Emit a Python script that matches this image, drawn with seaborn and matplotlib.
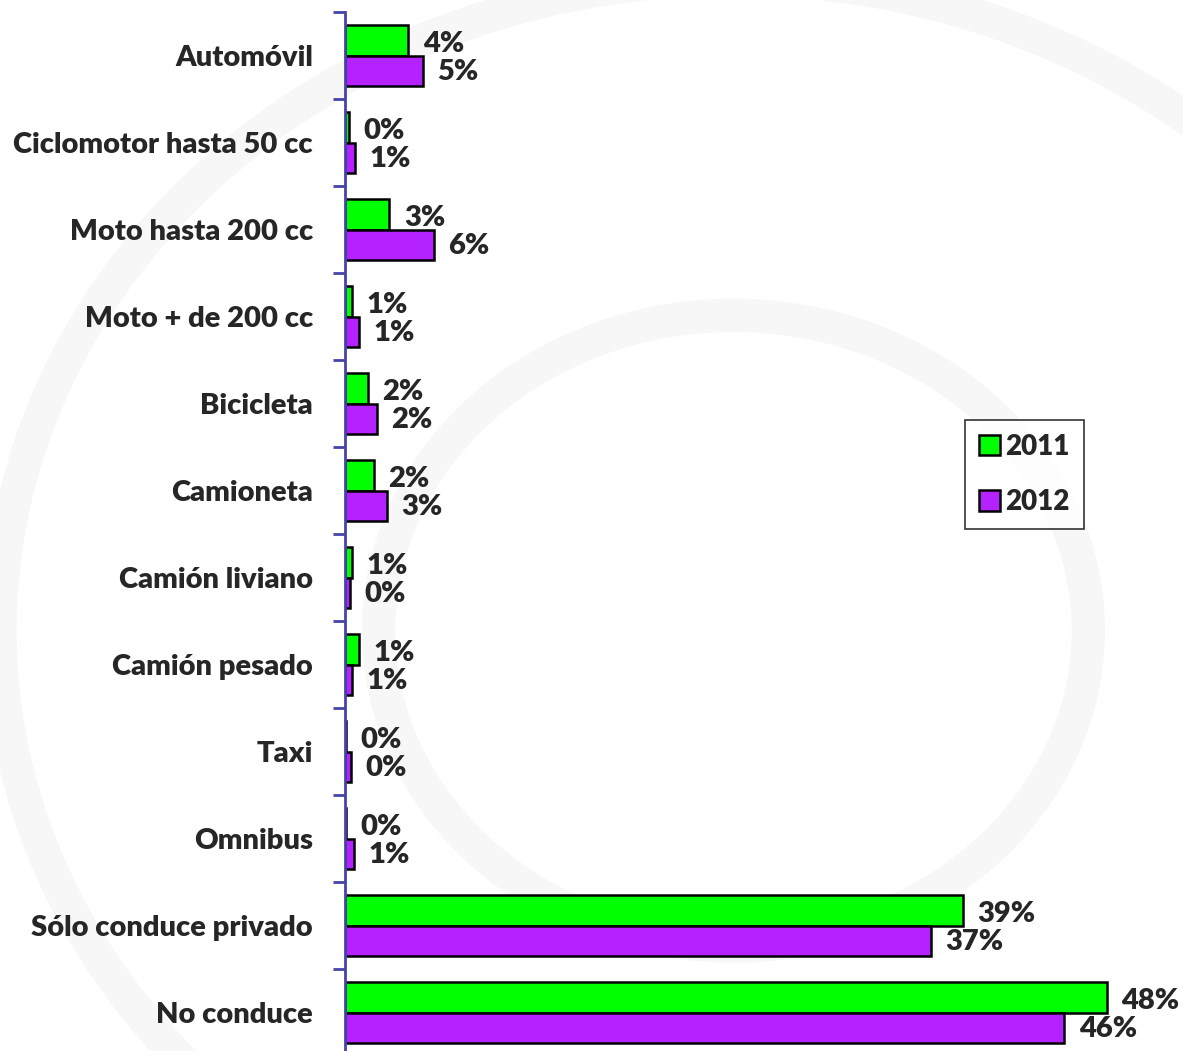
import matplotlib
matplotlib.use('Agg')
import matplotlib.pyplot as plt
import seaborn as sns
import pandas as pd
from matplotlib.patches import Circle

# Datos (porcentaje de encuestados)
categorias = ['Automóvil', 'Ciclomotor hasta 50 cc', 'Moto hasta 200 cc', 'Moto + de 200 cc',
              'Bicicleta', 'Camioneta', 'Camión liviano', 'Camión pesado', 'Taxi', 'Omnibus',
              'Sólo conduce privado', 'No conduce']
valores_2011 = [4.0, 0.25, 2.8, 0.45, 1.45, 1.8, 0.45, 0.9, 0.06, 0.06, 39.0, 48.1]
valores_2012 = [4.9, 0.6, 5.6, 0.9, 2.0, 2.65, 0.3, 0.45, 0.35, 0.55, 37.0, 45.4]
etiquetas_2011 = ['4%', '0%', '3%', '1%', '2%', '2%', '1%', '1%', '0%', '0%', '39%', '48%']
etiquetas_2012 = ['5%', '1%', '6%', '1%', '2%', '3%', '0%', '1%', '0%', '1%', '37%', '46%']
anios = ['2011', '2012']

df = pd.DataFrame({
    'categoria': categorias * 2,
    'valor': valores_2011 + valores_2012,
    'anio': [anios[0]] * len(categorias) + [anios[1]] * len(categorias),
})

sns.set_style('white')
plt.rcParams['font.family'] = ['Lato', 'DejaVu Sans']
peso = 'heavy'

fig = plt.figure(figsize=(11.83, 10.51), dpi=100)

# marca de agua tenue de fondo (detrás del gráfico)
for (cx, cy, r, lw) in [(0.62, 0.40, 0.62, 24), (0.62, 0.40, 0.30, 24)]:
    fig.patches.append(Circle((cx, cy), r, transform=fig.transFigure, fill=False,
                              edgecolor='#f7f7f7', linewidth=lw, zorder=0))

ax = fig.add_axes([345 / 1183, -5 / 1051, 1 - 345 / 1183, 1 - 7 / 1051])
ax.set_zorder(2)
ax.patch.set_alpha(0)

colores = {'2011': '#00ff00', '2012': '#b422ff'}
sns.barplot(data=df, y='categoria', x='valor', hue='anio', orient='h', palette=colores,
            edgecolor='black', linewidth=1.8, width=0.71, ax=ax, saturation=1)

ax.set_xlim(0, 52.9)
ax.set_ylim(len(categorias) - 0.5, -0.5)
ax.set_xlabel('')
ax.set_ylabel('')
ax.set_xticks([])
for s in ['top', 'right', 'bottom']:
    ax.spines[s].set_visible(False)
ax.spines['left'].set_color('#4444aa')
ax.spines['left'].set_linewidth(2)
ax.set_yticks([i - 0.5 for i in range(len(categorias) + 1)], minor=True)
ax.set_yticks(range(len(categorias)))
ax.set_yticklabels(categorias, fontsize=21, fontweight=peso)
ax.tick_params(axis='y', which='major', left=False, length=0, pad=23)
ax.tick_params(axis='y', which='minor', left=True, length=9, width=2, color='#4444aa',
               direction='out')

etiquetas = [etiquetas_2011, etiquetas_2012]
desplaz_y = [-3, -1]
for k, cont in enumerate(ax.containers):
    for barra, txt in zip(cont, etiquetas[k]):
        ax.annotate(txt, (barra.get_width(), barra.get_y() + barra.get_height() / 2),
                    xytext=(10.5, desplaz_y[k]), textcoords='offset points',
                    ha='left', va='center', fontsize=21, fontweight=peso)

leg = ax.legend(loc='upper left', bbox_to_anchor=(965 / 1183, 1 - 420 / 1051),
                bbox_transform=fig.transFigure, borderaxespad=0, frameon=True, fancybox=False,
                handlelength=0.75, handleheight=0.75, handletextpad=0.2,
                labelspacing=1.05, borderpad=0.5, fontsize=20, title=None)
leg.get_frame().set_edgecolor('black')
leg.get_frame().set_linewidth(1.2)
for t in leg.get_texts():
    t.set_fontweight(peso)

fig.savefig('out.png', dpi=100)
